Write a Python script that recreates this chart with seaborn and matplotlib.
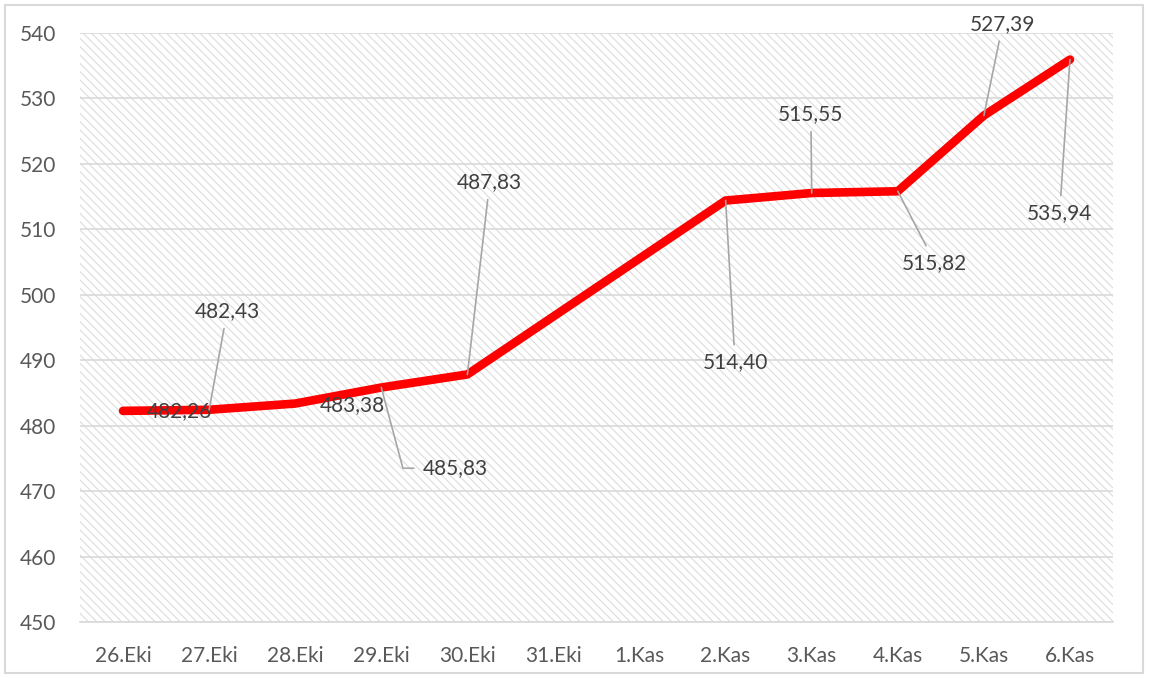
import numpy as np
import pandas as pd
import matplotlib
matplotlib.use("Agg")
import matplotlib.pyplot as plt
from matplotlib.patches import Rectangle
import seaborn as sns

# ---- data ----
categories = ["26.Eki", "27.Eki", "28.Eki", "29.Eki", "30.Eki", "31.Eki",
              "1.Kas", "2.Kas", "3.Kas", "4.Kas", "5.Kas", "6.Kas"]
values = [482.26, 482.43, 483.38, 485.83, 487.83, np.nan,
          np.nan, 514.40, 515.55, 515.82, 527.39, 535.94]
y_ticks = [450, 460, 470, 480, 490, 500, 510, 520, 530, 540]

# label placement (x in category units, y in value units) and leader style
label_pos = {
    0: (0.66, 482.25, None),
    1: (1.21, 497.5, "straight"),
    2: (2.66, 483.2, None),
    3: (3.86, 473.5, "elbow"),
    4: (4.26, 517.2, "straight"),
    7: (7.11, 489.7, "straight"),
    8: (7.99, 527.6, "straight"),
    9: (9.43, 504.9, "straight"),
    10: (10.22, 541.4, "straight"),
    11: (10.88, 512.5, "straight"),
}

sns.set_theme(style="white")
plt.rcParams["font.family"] = ["Lato", "DejaVu Sans"]
plt.rcParams["hatch.linewidth"] = 0.8

df = pd.DataFrame({"pos": np.arange(len(categories)), "cat": categories, "value": values})
df_valid = df.dropna()

fig = plt.figure(figsize=(11.57, 6.78), dpi=100)
ax = fig.add_axes([80 / 1157, 56 / 678, 1033 / 1157, 589 / 678])

# hatched plot area background
bg = Rectangle((0, 0), 1, 1, transform=ax.transAxes, facecolor="white",
               edgecolor="#dcdcdc", hatch="\\\\\\\\", linewidth=0, zorder=0)
ax.add_patch(bg)

# grid
for yv in y_ticks:
    ax.axhline(yv, color="#d9d9d9", lw=1.2, zorder=1)

sns.lineplot(data=df_valid, x="pos", y="value", color="#ff0000", lw=6.2,
             ax=ax, zorder=3, solid_capstyle="round", solid_joinstyle="miter")

ax.set_xlim(-0.5, len(categories) - 0.5)
ax.set_ylim(450, 540)
ax.set_yticks(y_ticks)
ax.set_yticklabels([str(v) for v in y_ticks])
ax.set_xticks(np.arange(len(categories)))
ax.set_xticklabels(categories)
ax.set_xticks(np.arange(len(categories) + 1) - 0.5, minor=True)
ax.tick_params(axis="x", which="major", length=0, pad=17, labelsize=15, colors="#595959")
ax.tick_params(axis="x", which="minor", length=6, width=1.2, color="#d9d9d9", direction="out")
ax.tick_params(axis="y", length=0, pad=17, labelsize=15, colors="#595959")
ax.set_xlabel("")
ax.set_ylabel("")
for s in ["top", "right", "left"]:
    ax.spines[s].set_visible(False)
ax.spines["bottom"].set_color("#d9d9d9")
ax.spines["bottom"].set_linewidth(1.2)
ax.spines["bottom"].set_zorder(2)

# data labels
for i, (tx, ty, kind) in label_pos.items():
    v = values[i]
    txt = f"{v:.2f}".replace(".", ",")
    if kind is None:
        ax.text(tx, ty, txt, ha="center", va="center", fontsize=15,
                color="#404040", zorder=4)
    elif kind == "straight":
        ax.annotate(txt, xy=(i, v), xytext=(tx, ty), textcoords="data",
                    ha="center", va="center", fontsize=15, color="#404040",
                    zorder=4,
                    arrowprops=dict(arrowstyle="-", color="#a6a6a6", lw=1.2,
                                    shrinkA=3, shrinkB=0))
    else:
        ax.annotate(txt, xy=(i, v), xytext=(tx, ty), textcoords="data",
                    ha="center", va="center", fontsize=15, color="#404040",
                    zorder=4,
                    arrowprops=dict(arrowstyle="-", color="#a6a6a6", lw=1.2,
                                    shrinkA=4, shrinkB=0, relpos=(0, 0.5),
                                    connectionstyle="angle,angleA=0,angleB=-75,rad=0"))

# chart border
fig.patches.append(Rectangle((5 / 1157, 5 / 678), 1138 / 1157, 668 / 678,
                             transform=fig.transFigure, fill=False,
                             edgecolor="#d9d9d9", lw=1.5))

fig.savefig("out.png", dpi=100)
